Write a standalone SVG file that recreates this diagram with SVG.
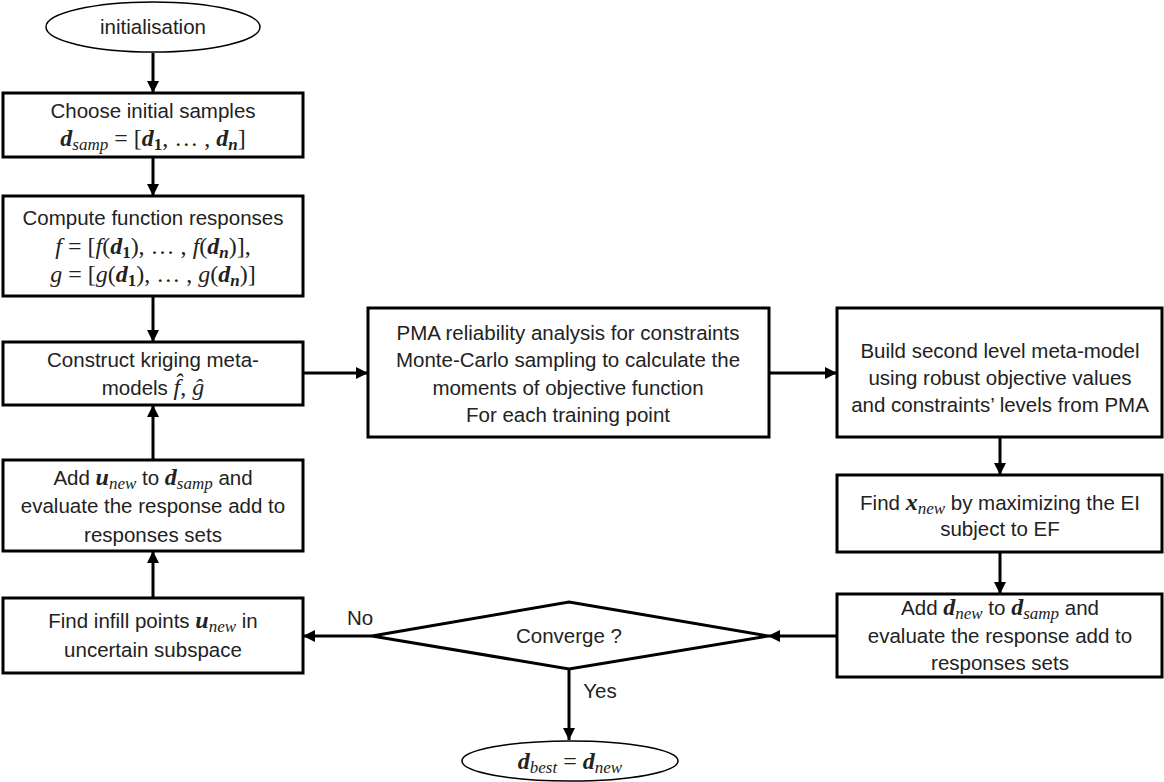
<svg xmlns="http://www.w3.org/2000/svg" width="1164" height="782" viewBox="0 0 1164 782">
<style>
.box{fill:#fff;stroke:#000;stroke-width:3}
.sh{fill:#fff;stroke:#000;stroke-width:1.5}
.t{font-family:"Liberation Sans",Arial,sans-serif;font-size:20.5px;fill:#222;text-anchor:middle}
.m{font-family:"Liberation Serif","Times New Roman",serif;font-size:24px}
.bi{font-weight:bold;font-style:italic}
.i{font-style:italic}
.b{font-weight:bold}
.sub{font-size:17px;baseline-shift:-25%}
.c{fill:none;stroke:#000;stroke-width:3}
</style>
<defs>
<marker id="ah" markerUnits="userSpaceOnUse" markerWidth="14" markerHeight="14" refX="12" refY="6" orient="auto">
<path d="M0,0 L12,6 L0,12 Z" fill="#000"/>
</marker>
</defs>
<g id="connectors">
<line class="c" x1="153" y1="53" x2="153" y2="93" marker-end="url(#ah)"/>
<line class="c" x1="153" y1="157" x2="153" y2="196" marker-end="url(#ah)"/>
<line class="c" x1="153" y1="296" x2="153" y2="342" marker-end="url(#ah)"/>
<line class="c" x1="153" y1="460" x2="153" y2="405" marker-end="url(#ah)"/>
<line class="c" x1="153" y1="598" x2="153" y2="551" marker-end="url(#ah)"/>
<line class="c" x1="303" y1="373" x2="368" y2="373" marker-end="url(#ah)"/>
<line class="c" x1="769" y1="373" x2="837" y2="373" marker-end="url(#ah)"/>
<line class="c" x1="1000" y1="437" x2="1000" y2="475" marker-end="url(#ah)"/>
<line class="c" x1="1000" y1="552" x2="1000" y2="594" marker-end="url(#ah)"/>
<line class="c" x1="837" y1="636" x2="768" y2="636" marker-end="url(#ah)"/>
<line class="c" x1="372" y1="636" x2="303" y2="636" marker-end="url(#ah)"/>
<line class="c" x1="569" y1="669" x2="569" y2="740" marker-end="url(#ah)"/>
<text class="t" x="360" y="625">No</text>
<text class="t" x="600" y="698">Yes</text>
</g>
<g id="start">
<ellipse class="sh" cx="153" cy="27" rx="107" ry="25"/>
<text class="t" x="153" y="34">initialisation</text>
</g>
<g id="choose">
<rect class="box" x="3" y="93" width="300" height="64"/>
<text class="t" x="153" y="118">Choose initial samples</text>
<text class="t m" x="153" y="146"><tspan class="bi">d</tspan><tspan class="i sub">samp</tspan> = [<tspan class="bi">d</tspan><tspan class="b sub">1</tspan>, … , <tspan class="bi">d</tspan><tspan class="bi sub">n</tspan>]</text>
</g>
<g id="compute">
<rect class="box" x="3" y="196" width="300" height="100"/>
<text class="t" x="153" y="225">Compute function responses</text>
<text class="t m" x="153" y="254"><tspan class="i">f</tspan> = [<tspan class="i">f</tspan>(<tspan class="bi">d</tspan><tspan class="b sub">1</tspan>), … , <tspan class="i">f</tspan>(<tspan class="bi">d</tspan><tspan class="bi sub">n</tspan>)],</text>
<text class="t m" x="153" y="282"><tspan class="i">g</tspan> = [<tspan class="i">g</tspan>(<tspan class="bi">d</tspan><tspan class="b sub">1</tspan>), … , <tspan class="i">g</tspan>(<tspan class="bi">d</tspan><tspan class="bi sub">n</tspan>)]</text>
</g>
<g id="kriging">
<rect class="box" x="3" y="342" width="300" height="63"/>
<text class="t" x="153" y="367">Construct kriging meta-</text>
<text class="t" x="153" y="395">models <tspan class="m i">f&#x302;</tspan><tspan class="m">, </tspan><tspan class="m i">g&#x302;</tspan></text>
</g>
<g id="add-u">
<rect class="box" x="3" y="460" width="300" height="91"/>
<text class="t" x="153" y="485">Add <tspan class="m bi">u</tspan><tspan class="m i sub">new</tspan> to <tspan class="m bi">d</tspan><tspan class="m i sub">samp</tspan> and</text>
<text class="t" x="153" y="513">evaluate the response add to</text>
<text class="t" x="153" y="542">responses sets</text>
</g>
<g id="infill">
<rect class="box" x="3" y="598" width="300" height="75"/>
<text class="t" x="153" y="628">Find infill points <tspan class="m bi">u</tspan><tspan class="m i sub">new</tspan> in</text>
<text class="t" x="153" y="657">uncertain subspace</text>
</g>
<g id="pma">
<rect class="box" x="368" y="308" width="401" height="129"/>
<text class="t" x="568" y="340">PMA reliability analysis for constraints</text>
<text class="t" x="568" y="367">Monte-Carlo sampling to calculate the</text>
<text class="t" x="568" y="395">moments of objective function</text>
<text class="t" x="568" y="422">For each training point</text>
</g>
<g id="second-level">
<rect class="box" x="837" y="308" width="325" height="129"/>
<text class="t" x="1000" y="358">Build second level meta-model</text>
<text class="t" x="1000" y="385">using robust objective values</text>
<text class="t" x="1000" y="412">and constraints’ levels from PMA</text>
</g>
<g id="find-x">
<rect class="box" x="837" y="475" width="325" height="77"/>
<text class="t" x="1000" y="510">Find <tspan class="m bi">x</tspan><tspan class="m i sub">new</tspan> by maximizing the EI</text>
<text class="t" x="1000" y="536">subject to EF</text>
</g>
<g id="add-d">
<rect class="box" x="837" y="594" width="325" height="83"/>
<text class="t" x="1000" y="615">Add <tspan class="m bi">d</tspan><tspan class="m i sub">new</tspan> to <tspan class="m bi">d</tspan><tspan class="m i sub">samp</tspan> and</text>
<text class="t" x="1000" y="643">evaluate the response add to</text>
<text class="t" x="1000" y="670">responses sets</text>
</g>
<g id="converge">
<polygon class="box" points="569,602 768,636 569,669 372,636"/>
<text class="t" x="569" y="643">Converge ?</text>
</g>
<g id="end">
<ellipse class="sh" cx="570" cy="761" rx="108" ry="20"/>
<text class="t m" x="570" y="769"><tspan class="bi">d</tspan><tspan class="i sub">best</tspan> = <tspan class="bi">d</tspan><tspan class="i sub">new</tspan></text>
</g>
</svg>
